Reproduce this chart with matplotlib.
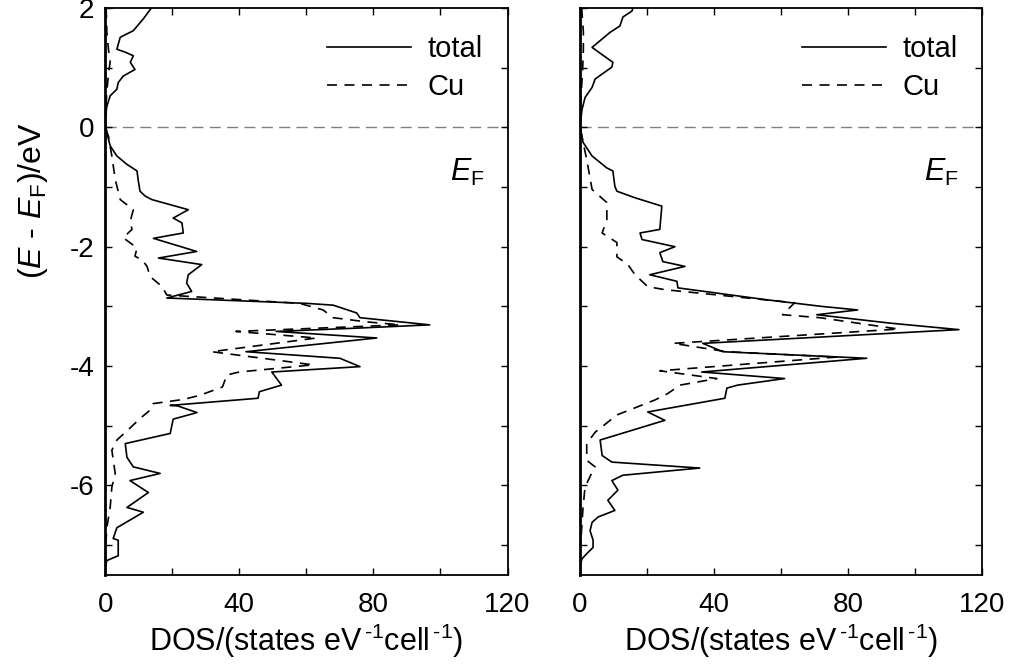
import numpy as np
import matplotlib.pyplot as plt
from matplotlib.ticker import MultipleLocator

plt.rcParams['font.family'] = 'Liberation Sans'
plt.rcParams['mathtext.fontset'] = 'custom'
plt.rcParams['mathtext.rm'] = 'Liberation Sans'
plt.rcParams['mathtext.it'] = 'Liberation Sans:italic'
plt.rcParams['axes.unicode_minus'] = False

# left panel: energy (eV) and DOS
e_tot_a = [2.04, 1.82, 1.62, 1.51, 1.31, 1.26, 1.20, 1.09, 0.97, 0.86, 0.75, 0.64, 0.53, 0.35, 0.13,
           -0.09, -0.31, -0.48, -0.62, -0.73, -0.90, -1.07, -1.15, -1.21, -1.38, -1.52, -1.60, -1.77,
           -1.86, -2.08, -2.19, -2.30, -2.47, -2.61, -2.75, -2.86, -2.95, -2.98, -3.11, -3.19, -3.31,
           -3.36, -3.42, -3.53, -3.76, -3.87, -4.01, -4.10, -4.32, -4.43, -4.54, -4.66, -4.67, -4.78,
           -4.89, -5.13, -5.30, -5.53, -5.69, -5.80, -5.92, -6.12, -6.37, -6.45, -6.71, -6.89, -6.92,
           -7.18, -7.26, -7.38, -7.5]
dos_tot_a = [14.3, 11.4, 8.4, 4.5, 3.5, 6.0, 8.4, 7.5, 8.9, 5.4, 3.9, 3.5, 1.5, 0.5, 0.0,
             0.5, 1.5, 3.5, 6.5, 9.5, 9.9, 10.4, 11.9, 13.9, 24.8, 20.3, 22.9, 23.3,
             14.4, 27.3, 15.9, 28.8, 24.8, 24.3, 25.8, 18.4, 60.2, 68.0, 75.0, 76.0, 96.8,
             77.0, 51.0, 81.0, 42.0, 70.0, 76.0, 49.7, 52.6, 46.0, 45.6, 19.4, 21.7, 27.4,
             20.3, 19.4, 6.0, 6.5, 8.4, 16.4, 7.4, 12.9, 6.5, 11.4, 3.5, 2.4, 3.9,
             3.9, 0.5, 0.0, 0.0]

e_cu_a = [2.0, 1.6, 1.3, 1.1, 0.9, 0.6, 0.3, 0.0, -0.15, -0.48, -0.87, -1.21, -1.38, -1.57, -1.71,
          -1.85, -2.02, -2.16, -2.22, -2.33, -2.50, -2.67, -2.81, -2.95, -3.06, -3.19, -3.26, -3.31,
          -3.42, -3.53, -3.76, -3.98, -4.10, -4.15, -4.35, -4.49, -4.56, -4.63, -4.74, -4.88, -5.04,
          -5.24, -5.41, -5.80, -6.03, -6.37, -6.71, -7.2, -7.5]
dos_cu_a = [0.3, 0.5, 1.0, 1.5, 1.0, 0.5, 0.2, 0.0, 1.0, 2.0, 3.0, 4.5, 8.4, 7.5, 8.0,
            5.4, 9.5, 8.9, 11.0, 12.5, 13.4, 17.0, 18.4, 58.0, 65.0, 68.0, 78.0, 88.0,
            39.0, 63.0, 31.8, 62.0, 40.0, 36.3, 35.0, 28.3, 23.3, 14.3, 13.4, 10.4, 7.4,
            3.5, 2.0, 3.0, 2.0, 1.5, 0.5, 0.0, 0.0]

# right panel
e_tot_b = [2.04, 1.95, 1.85, 1.70, 1.59, 1.34, 1.09, 1.01, 0.81, 0.67, 0.50, 0.30, 0.02,
           -0.25, -0.48, -0.68, -0.73, -0.99, -1.07, -1.18, -1.32, -1.71, -1.77, -1.88, -2.00,
           -2.10, -2.25, -2.33, -2.47, -2.58, -2.69, -2.89, -3.00, -3.06, -3.14, -3.28, -3.39,
           -3.62, -3.76, -3.87, -4.10, -4.21, -4.32, -4.37, -4.54, -4.77, -4.91, -5.24, -5.50,
           -5.61, -5.71, -5.83, -5.92, -6.08, -6.25, -6.42, -6.53, -6.62, -6.76, -6.92, -7.04,
           -7.14, -7.23, -7.35, -7.5]
dos_tot_b = [16.0, 15.5, 12.8, 11.9, 8.9, 3.6, 9.8, 9.5, 4.5, 3.6, 1.5, 0.6, 0.0,
             0.9, 3.6, 8.0, 9.8, 10.4, 11.0, 16.4, 24.4, 23.8, 17.9, 18.5, 28.3,
             23.8, 24.7, 31.3, 20.8, 28.9, 29.2, 55.7, 72.0, 82.8, 70.6, 92.3, 113.0,
             36.6, 42.6, 85.5, 36.3, 61.0, 47.0, 43.8, 43.2, 20.2, 25.3, 6.0, 6.6,
             9.5, 35.7, 12.8, 9.5, 11.3, 8.3, 10.4, 5.4, 3.6, 3.0, 3.9, 3.9,
             2.1, 0.6, 0.0, 0.0]

e_cu_b = [2.0, 1.6, 1.3, 1.0, 0.7, 0.4, 0.0, -0.54, -1.04, -1.26, -1.55, -1.77, -1.93, -2.17,
          -2.30, -2.47, -2.67, -2.72, -2.94, -3.14, -3.19, -3.38, -3.62, -3.76, -3.85, -4.08,
          -4.21, -4.32, -4.46, -4.57, -4.82, -5.11, -5.30, -5.58, -5.69, -5.78, -6.03, -6.37,
          -6.71, -7.2, -7.5]
dos_cu_b = [0.5, 1.0, 1.0, 0.8, 0.5, 0.2, 0.0, 2.0, 3.6, 8.0, 8.0, 6.6, 11.0, 11.0,
            14.3, 16.4, 20.2, 25.3, 64.0, 60.4, 71.5, 95.0, 27.8, 43.7, 76.5, 23.8,
            40.8, 29.8, 26.2, 22.3, 11.0, 4.5, 2.0, 2.0, 4.5, 3.6, 1.5, 0.9,
            0.5, 0.0, 0.0]

xlabel = r'DOS/(states eV$^{\,\text{-}1}$cell$^{\,\text{-}1}$)'
ylabel = r'($E$ - $E_{\rm F}$)/eV'

fig = plt.figure(figsize=(10.11, 6.70), dpi=100)
ax1 = fig.add_axes([0.104, 0.142, 0.398, 0.846])
ax2 = fig.add_axes([0.5737, 0.142, 0.398, 0.846])

panels = [(ax1, e_tot_a, dos_tot_a, e_cu_a, dos_cu_a),
          (ax2, e_tot_b, dos_tot_b, e_cu_b, dos_cu_b)]
for ax, et, dt, ec, dc in panels:
    ax.axhline(0, color='#808080', lw=1.0, dashes=(8, 4.5), zorder=1)
    ax.plot(dt, et, color='black', lw=1.2, label='total')
    ax.plot(dc, ec, color='black', lw=1.2, dashes=(6, 4.5), label='Cu')
    ax.set_xlim(0, 120)
    ax.set_ylim(-7.5, 2)
    ax.xaxis.set_major_locator(MultipleLocator(40))
    ax.xaxis.set_minor_locator(MultipleLocator(20))
    ax.yaxis.set_major_locator(MultipleLocator(2))
    ax.yaxis.set_minor_locator(MultipleLocator(1))
    ax.tick_params(which='both', direction='in', top=True, right=True, labelsize=20,
                   length=5, width=1.0)
    ax.tick_params(axis='x', pad=12)
    ax.tick_params(axis='y', pad=8)
    for s in ax.spines.values():
        s.set_linewidth(1.3)
    ax.spines['left'].set_linewidth(2.0)
    ax.set_xlabel(xlabel, fontsize=22, labelpad=3)
    ax.text(113, -0.75, r'$E_{\rm F}$', fontsize=22, ha='right', va='center')
    ax.legend(loc='upper left', bbox_to_anchor=(0.551, 0.952), frameon=False, fontsize=21,
              handlelength=2.9, handletextpad=0.55, labelspacing=0.35,
              borderaxespad=0, borderpad=0)

ax1.set_ylabel(ylabel, fontsize=23)
ax1.yaxis.set_label_coords(-0.136, 0.66)
ax2.tick_params(labelleft=False)

fig.savefig('out.png', dpi=100)
